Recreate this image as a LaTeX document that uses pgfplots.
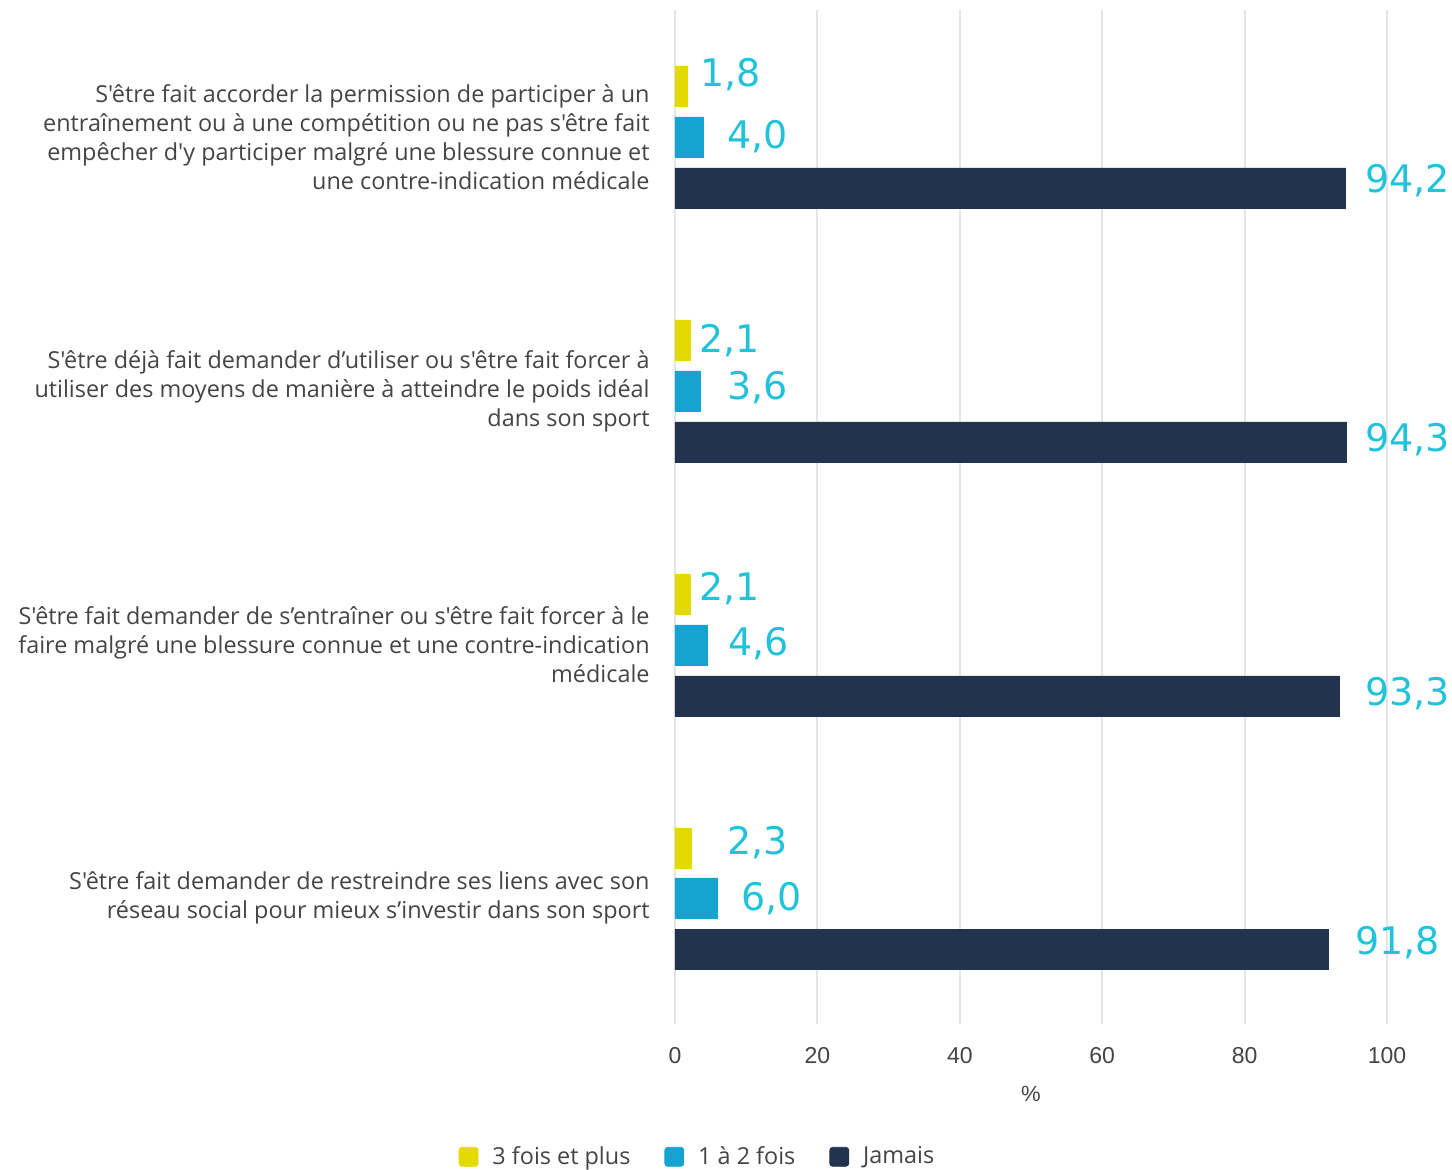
\documentclass[border=0pt]{standalone}
\usepackage{pgfplots}
\pgfplotsset{compat=1.18}
\usepackage{fontspec}
\newfontfamily\opensans{Open Sans}
\newfontfamily\labfont{DejaVu Sans}
\newfontfamily\tickfont{Liberation Sans}
\definecolor{cyel}{HTML}{E3DA00}
\definecolor{cblu}{HTML}{17A3CF}
\definecolor{cdark}{HTML}{22334F}
\definecolor{clab}{HTML}{22C3DA}
\definecolor{ctxt}{HTML}{444444}
\definecolor{cgrid}{HTML}{E5E5E5}

\begin{document}
\begin{tikzpicture}[lab/.style={anchor=west, inner sep=0pt, text=clab, font=\labfont\fontsize{19}{19}\selectfont}]
\begin{axis}[
  at={(337.5pt,73pt)}, anchor=south west,
  scale only axis, width=356pt, height=507pt,
  xbar, bar width=20pt, bar shift=0pt,
  xmin=0, xmax=100, ymin=10, ymax=1024, y dir=reverse,
  xtick={0,20,...,100},
  ytick={137,391,645,898},
  yticklabels={
    {S'être fait accorder la permission de participer à un\\entraînement ou à une compétition ou ne pas s'être fait\\empêcher d'y participer malgré une blessure connue et\\une contre-indication médicale},
    {S'être déjà fait demander d’utiliser ou s'être fait forcer à\\utiliser des moyens de manière à atteindre le poids idéal\\dans son sport},
    {S'être fait demander de s’entraîner ou s'être fait forcer à le\\faire malgré une blessure connue et une contre-indication\\médicale},
    {S'être fait demander de restreindre ses liens avec son\\réseau social pour mieux s’investir dans son sport}},
  xmajorgrids, grid style={cgrid, line width=1pt},
  axis line style={draw=none},
  major tick length=0pt,
  /pgf/number format/assume math mode=true,
  xticklabel style={font=\tickfont\fontsize{11.5}{13}\selectfont, text=ctxt, inner sep=0pt, anchor=north, yshift=-11.5pt},
  yticklabel style={font=\opensans\fontsize{11.7}{14.5}\selectfont, text=ctxt, align=right, inner sep=0pt, anchor=east, xshift=-12.5pt},
  xlabel={\%},
  xlabel style={at={(axis description cs:0.5,-0.069)}, anchor=center, font=\tickfont\fontsize{11}{13}\selectfont, text=ctxt},
  clip=false,
  legend columns=3,
  legend cell align=left,
  legend style={at={(0.033,-0.131)}, anchor=center, draw=none, fill=none,
    font=\opensans\fontsize{11.7}{13}\selectfont, text=ctxt,
    /tikz/every odd column/.append style={column sep=5pt},
    /tikz/every even column/.append style={column sep=15pt}},
  legend image code/.code={\fill[#1, rounded corners=1.5pt] (0pt,-4.75pt) rectangle (9.5pt,4.75pt);},
]
\addplot[fill=cyel, draw=cyel] coordinates {(1.8,86) (2.1,340) (2.1,594) (2.3,848)};
\addlegendentry{3 fois et plus}
\addplot[fill=cblu, draw=cblu] coordinates {(4.0,137) (3.6,391) (4.6,645) (6.0,898)};
\addlegendentry{1 à 2 fois}
\addplot[fill=cdark, draw=cdark] coordinates {(94.2,188) (94.3,442) (93.3,696) (91.8,949)};
\addlegendentry{Jamais}

\node[lab] at (axis cs:3.51,75) {1,8};
\node[lab] at (axis cs:7.30,137) {4,0};
\node[lab] at (axis cs:96.91,181) {94,2};
\node[lab] at (axis cs:3.37,341) {2,1};
\node[lab] at (axis cs:7.30,388) {3,6};
\node[lab] at (axis cs:96.91,440) {94,3};
\node[lab] at (axis cs:3.37,589) {2,1};
\node[lab] at (axis cs:7.44,644) {4,6};
\node[lab] at (axis cs:96.91,694) {93,3};
\node[lab] at (axis cs:7.30,843) {2,3};
\node[lab] at (axis cs:9.27,899) {6,0};
\node[lab] at (axis cs:95.51,943) {91,8};
\end{axis}
\pgfresetboundingbox
\path (0,0) rectangle (726pt,585pt);
\end{tikzpicture}
\end{document}
